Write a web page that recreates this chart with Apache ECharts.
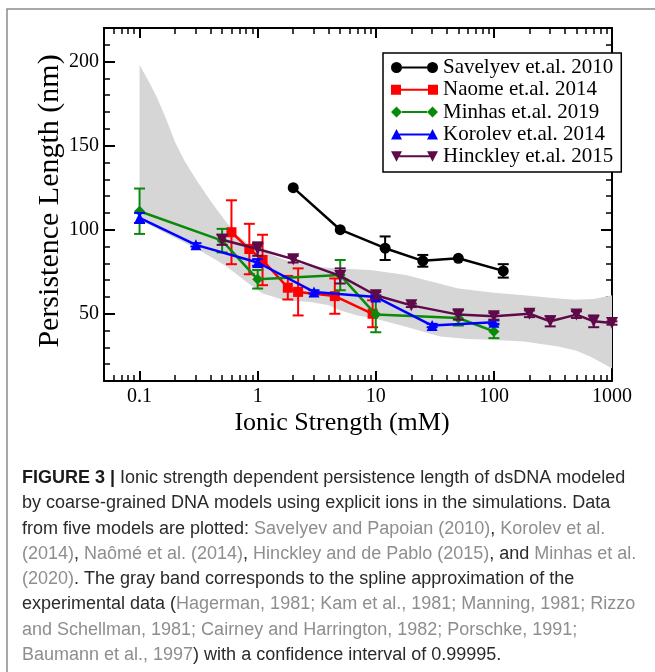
<!DOCTYPE html>
<html><head><meta charset="utf-8">
<script src="https://cdn.jsdelivr.net/npm/echarts@6/dist/echarts.min.js"></script>
<style>html,body{margin:0;padding:0;background:#fff}#c{width:655px;height:672px}</style>
</head><body><div id="c"></div>
<script>
// ---- tick values ----
const xMajor = [0.1, 1, 10, 100, 1000];
const xMinor = [0.06,0.07,0.08,0.09,0.2,0.3,0.4,0.5,0.6,0.7,0.8,0.9,2,3,4,5,6,7,8,9,20,30,40,50,60,70,80,90,200,300,400,500,600,700,800,900];
const yMajor = [50, 100, 150, 200];
const yMinor = [20,30,40,60,70,80,90,110,120,130,140,160,170,180,190,210];

// ---- series data ----
const savelyevX   = [2, 5, 12, 25, 50, 120];
const savelyevY   = [125, 100, 89, 81.5, 83, 75.5];
const savelyevErr = [0, 0, 7, 3.5, 0, 4];

const naomeX   = [0.6, 0.85, 1.1, 1.8, 2.2, 4.5, 9.4];
const naomeY   = [98.5, 88.5, 82, 65.5, 63, 60.5, 50];
const naomeErr = [19, 15, 15, 7, 14, 10.5, 8];

const minhasX   = [0.1, 0.5, 1, 5, 10, 50, 100];
const minhasY   = [111, 93.5, 70.5, 73, 49.5, 47.5, 39.5];
const minhasErr = [13.5, 7, 5.5, 9, 10.5, 4.5, 4];

const korolevX   = [0.1, 0.3, 1, 3, 10, 30, 100];
const korolevY   = [107, 91, 80.5, 63, 60, 43, 45];
const korolevErr = [3, 1, 2, 1, 1, 1, 1];

const hinckleyX   = [0.5, 1, 2, 5, 10, 20, 50, 100, 200, 300, 500, 700, 1000];
const hinckleyY   = [94, 88.5, 82.5, 72.5, 61, 55, 49.5, 48.5, 50, 45.5, 49.5, 45.5, 44.5];
const hinckleyErr = [3, 4, 2, 4.5, 2, 1, 3, 2, 2, 3, 2, 3.5, 1];

// gray confidence band (experimental spline)
const bandUpperX = [0.1, 0.12, 0.14, 0.17, 0.2, 0.24, 0.3, 0.37, 0.45, 0.55, 0.67, 0.85, 1.12, 1.5, 1.9, 2.6, 3.6, 5.5, 9, 18, 30, 50, 100, 180, 300, 480, 700, 1000];
const bandUpperY = [198, 188, 179, 165, 152, 141, 130, 120.5, 112, 104, 97, 91, 87, 83.5, 81, 79, 77.5, 76.8, 76, 73, 69, 65, 62.5, 61, 59.5, 58.3, 58.8, 61];
const bandLowerX = [0.1, 0.2, 0.3, 0.42, 0.55, 0.8, 1.1, 1.7, 2.8, 4, 5, 7, 10, 18, 35, 60, 94, 180, 350, 500, 660, 1000];
const bandLowerY = [106, 95, 89, 83, 78, 69, 62, 58, 57, 55, 52, 49, 47, 42.3, 36.5, 35, 34.5, 33.5, 30.5, 28, 24.5, 17.5];

const names = ['Savelyev et.al. 2010','Naome et.al. 2014','Minhas et.al. 2019','Korolev et.al. 2014','Hinckley et.al. 2015'];
const colors = ['#000000','#ff0000','#0a8a0a','#0000ff','#5e0a48'];

// ---- helpers ----
const zip = (xs, ys) => xs.map((x, i) => [x, ys[i]]);
const zip3 = (xs, ys, es) => xs.map((x, i) => [x, ys[i], es[i]]);
const SERIF = 'Liberation Serif';

function errRender(color) {
  return function (params, api) {
    const x = api.value(0), y = api.value(1), e = api.value(2);
    if (!e) return null;
    const t = api.coord([x, y + e]), b = api.coord([x, y - e]);
    const w = 5.5;
    const st = { stroke: color, lineWidth: 2, fill: null };
    return { type: 'group', children: [
      { type: 'line', shape: { x1: t[0], y1: t[1], x2: b[0], y2: b[1] }, style: st },
      { type: 'line', shape: { x1: t[0] - w, y1: t[1], x2: t[0] + w, y2: t[1] }, style: st },
      { type: 'line', shape: { x1: b[0] - w, y1: b[1], x2: b[0] + w, y2: b[1] }, style: st }
    ]};
  };
}

function bandRender(params, api) {
  const pts = [];
  for (let i = 0; i < bandUpperX.length; i++) pts.push(api.coord([bandUpperX[i], bandUpperY[i]]));
  for (let i = bandLowerX.length - 1; i >= 0; i--) pts.push(api.coord([bandLowerX[i], bandLowerY[i]]));
  return { type: 'polygon', shape: { points: pts }, style: { fill: '#d6d6d6', stroke: null } };
}

const lineSeries = (idx, xs, ys, symbol, size, rotate) => ({
  type: 'line', name: names[idx], data: zip(xs, ys),
  xAxisIndex: 0, yAxisIndex: 0,
  symbol: symbol, symbolSize: size, symbolRotate: rotate || 0, showSymbol: true,
  lineStyle: { color: colors[idx], width: 2.5 },
  itemStyle: { color: colors[idx], borderWidth: 0 },
  clip: false, emphasis: { disabled: true }, z: 3 + idx
});
const errSeries = (idx, xs, ys, es) => ({
  type: 'custom', name: 'err' + idx, data: zip3(xs, ys, es),
  xAxisIndex: 0, yAxisIndex: 0, encode: { x: 0, y: 1 },
  renderItem: errRender(colors[idx]), clip: false, z: 3 + idx, silent: true
});

// legend icons: marker - line - marker
const icons = [
  'path://M0,6 A5.5,5.5 0 1,1 11,6 A5.5,5.5 0 1,1 0,6 Z M11,4.9 L36,4.9 L36,7.1 L11,7.1 Z M36,6 A5.5,5.5 0 1,1 47,6 A5.5,5.5 0 1,1 36,6 Z',
  'path://M0,1 L10,1 L10,11 L0,11 Z M10,4.9 L37,4.9 L37,7.1 L10,7.1 Z M37,1 L47,1 L47,11 L37,11 Z',
  'path://M0,6 L5.5,0.5 L11,6 L5.5,11.5 Z M11,4.9 L36,4.9 L36,7.1 L11,7.1 Z M36,6 L41.5,0.5 L47,6 L41.5,11.5 Z',
  'path://M0,11 L5.5,0.5 L11,11 Z M8.3,4.9 L38.7,4.9 L38.7,7.1 L8.3,7.1 Z M36,11 L41.5,0.5 L47,11 Z',
  'path://M0,1 L11,1 L5.5,11.5 Z M8.3,4.9 L38.7,4.9 L38.7,7.1 L8.3,7.1 Z M36,1 L47,1 L41.5,11.5 Z'
];

const axisLineStyle = { show: true, onZero: false, lineStyle: { color: '#000', width: 2 } };
function xAx(pos, major) {
  return {
    type: 'log', logBase: 10, min: 0.05, max: 1000, position: pos,
    axisLine: major ? axisLineStyle : { show: false, onZero: false },
    axisTick: { show: true, inside: true, length: major ? 10 : 6, customValues: major ? xMajor : xMinor,
                lineStyle: { color: '#000', width: major ? 2 : 1.5 } },
    axisLabel: (major && pos === 'bottom') ? {
      show: true, customValues: xMajor, margin: 6, color: '#000', fontFamily: SERIF, fontSize: 20,
      formatter: v => String(Number(Number(v).toPrecision(6)))
    } : { show: false },
    splitLine: { show: false }, minorTick: { show: false }
  };
}
function yAx(pos, major) {
  return {
    type: 'value', min: 10, max: 220, position: pos,
    axisLine: major ? axisLineStyle : { show: false, onZero: false },
    axisTick: { show: true, inside: true, length: major ? 11 : 6, customValues: major ? yMajor : yMinor,
                lineStyle: { color: '#000', width: major ? 2 : 1.5 } },
    axisLabel: (major && pos === 'left') ? {
      show: true, customValues: yMajor, margin: 5, color: '#000', fontFamily: SERIF, fontSize: 20
    } : { show: false },
    splitLine: { show: false }, minorTick: { show: false }
  };
}

// caption: [style, text] segments per line; d = dark, g = gray link, b = bold
const caption = [
  [['b','FIGURE 3 | '],['d','Ionic strength dependent persistence length of dsDNA modeled']],
  [['d','by coarse-grained DNA models using explicit ions in the simulations. Data']],
  [['d','from five models are plotted: '],['g','Savelyev and Papoian (2010)'],['d',', '],['g','Korolev et al.']],
  [['g','(2014)'],['d',', '],['g','Naômé et al. (2014)'],['d',', '],['g','Hinckley and de Pablo (2015)'],['d',', and '],['g','Minhas et al.']],
  [['g','(2020)'],['d','. The gray band corresponds to the spline approximation of the']],
  [['d','experimental data ('],['g','Hagerman, 1981; Kam et al., 1981; Manning, 1981; Rizzo']],
  [['g','and Schellman, 1981; Cairney and Harrington, 1982; Porschke, 1991;']],
  [['g','Baumann et al., 1997'],['d',') with a confidence interval of 0.99995.']]
];
const capFont = 'Liberation Sans';
const capRich = {
  b: { fontFamily: capFont, fontSize: 18, fontWeight: 'bold', fill: '#1a1a1a' },
  d: { fontFamily: capFont, fontSize: 18, fill: '#2a2a2a' },
  g: { fontFamily: capFont, fontSize: 18, fill: '#8e8e8e' }
};
const captionGraphics = caption.map((segs, i) => ({
  type: 'text', x: 22, y: 478 + i * 25.3,
  style: {
    text: segs.map(s => '{' + s[0] + '|' + s[1] + '}').join(''),
    rich: capRich, fontFamily: capFont, fontSize: 18, fill: '#2a2a2a',
    align: 'left', verticalAlign: 'middle'
  }
}));

const chart = echarts.init(document.getElementById('c'), null, { renderer: 'canvas' });
chart.setOption({
  animation: false,
  backgroundColor: '#fff',
  grid: { left: 104, right: 43, top: 28, bottom: 291, containLabel: false, outerBoundsMode: 'none' },
  xAxis: [xAx('bottom', true), xAx('bottom', false), xAx('top', true), xAx('top', false)],
  yAxis: [yAx('left', true), yAx('left', false), yAx('right', true), yAx('right', false)],
  legend: {
    orient: 'vertical', left: 383, top: 53,
    data: names.map((n, i) => ({ name: n, icon: icons[i] })),
    itemWidth: 47, itemHeight: 12, itemGap: 1.25,
    textStyle: { fontFamily: SERIF, fontSize: 21, color: '#000', lineHeight: 20 },
    borderColor: '#000', borderWidth: 1.5, backgroundColor: '#fff',
    padding: [4, 8, 5, 8], selectedMode: false, z: 20
  },
  graphic: [
    { type: 'rect', shape: { x: 7, y: 9, width: 720, height: 720 }, style: { fill: null, stroke: '#8c8c8c', lineWidth: 1.5 }, z: 0 },
    { type: 'text', x: 50, y: 201, rotation: Math.PI / 2,
      style: { text: 'Persistence Length (nm)', fontFamily: SERIF, fontSize: 30, fill: '#000', align: 'center', verticalAlign: 'middle' } },
    { type: 'text', x: 342, y: 423,
      style: { text: 'Ionic Strength (mM)', fontFamily: SERIF, fontSize: 26, fill: '#000', align: 'center', verticalAlign: 'middle' } }
  ].concat(captionGraphics),
  series: [
    { type: 'custom', name: 'band', data: [[1, 100]], xAxisIndex: 0, yAxisIndex: 0, encode: { x: 0, y: 1 },
      renderItem: bandRender, z: 1, silent: true },
    errSeries(0, savelyevX, savelyevY, savelyevErr),
    lineSeries(0, savelyevX, savelyevY, 'circle', 11),
    errSeries(1, naomeX, naomeY, naomeErr),
    lineSeries(1, naomeX, naomeY, 'rect', 10),
    errSeries(2, minhasX, minhasY, minhasErr),
    lineSeries(2, minhasX, minhasY, 'diamond', [11, 11]),
    errSeries(3, korolevX, korolevY, korolevErr),
    lineSeries(3, korolevX, korolevY, 'triangle', 11),
    errSeries(4, hinckleyX, hinckleyY, hinckleyErr),
    lineSeries(4, hinckleyX, hinckleyY, 'triangle', 12, 180)
  ]
});
</script></body></html>
